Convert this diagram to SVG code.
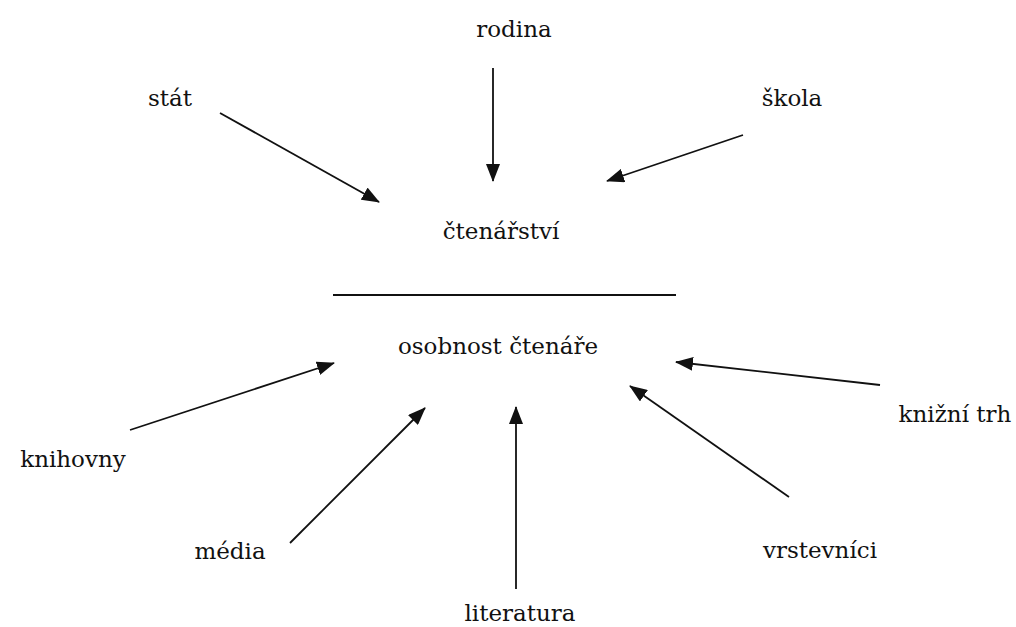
<svg xmlns="http://www.w3.org/2000/svg" width="1016" height="627" viewBox="0 0 1016 627">
<style>
text{font-family:'DejaVu Serif','Liberation Serif',serif;font-size:23px;fill:#111;text-anchor:middle}
.c{stroke:#111;stroke-width:1.8;fill:none;marker-end:url(#ah)}
</style>
<defs>
<marker id="ah" markerUnits="userSpaceOnUse" markerWidth="18" markerHeight="14" viewBox="0 0 18 14" refX="17" refY="7" orient="auto">
<path d="M0,0 L18,7 L0,14 Z" fill="#111"/>
</marker>
</defs>
<rect width="1016" height="627" fill="#fff"/>
<g id="center">
<text x="501" y="239">čtenářství</text>
<line x1="333" y1="295" x2="676" y2="295" stroke="#111" stroke-width="1.8"/>
<text x="498" y="354">osobnost čtenáře</text>
</g>
<g id="n-rodina"><text x="514" y="37">rodina</text></g>
<g id="n-stat"><text x="170" y="106">stát</text></g>
<g id="n-skola"><text x="792" y="106">škola</text></g>
<g id="n-knihovny"><text x="73" y="467">knihovny</text></g>
<g id="n-media"><text x="230" y="559">média</text></g>
<g id="n-literatura"><text x="520" y="621">literatura</text></g>
<g id="n-vrstevnici"><text x="820" y="558">vrstevníci</text></g>
<g id="n-knizni"><text x="955" y="422">knižní trh</text></g>
<g id="connectors">
<line class="c" x1="220" y1="113" x2="379" y2="202"/>
<line class="c" x1="493" y1="68" x2="493" y2="181"/>
<line class="c" x1="743" y1="135" x2="607" y2="181"/>
<line class="c" x1="130" y1="430" x2="334" y2="363"/>
<line class="c" x1="290" y1="543" x2="425" y2="408"/>
<line class="c" x1="516" y1="589" x2="516" y2="407"/>
<line class="c" x1="789" y1="497" x2="630" y2="386"/>
<line class="c" x1="880" y1="385" x2="676" y2="362"/>
</g>
</svg>
